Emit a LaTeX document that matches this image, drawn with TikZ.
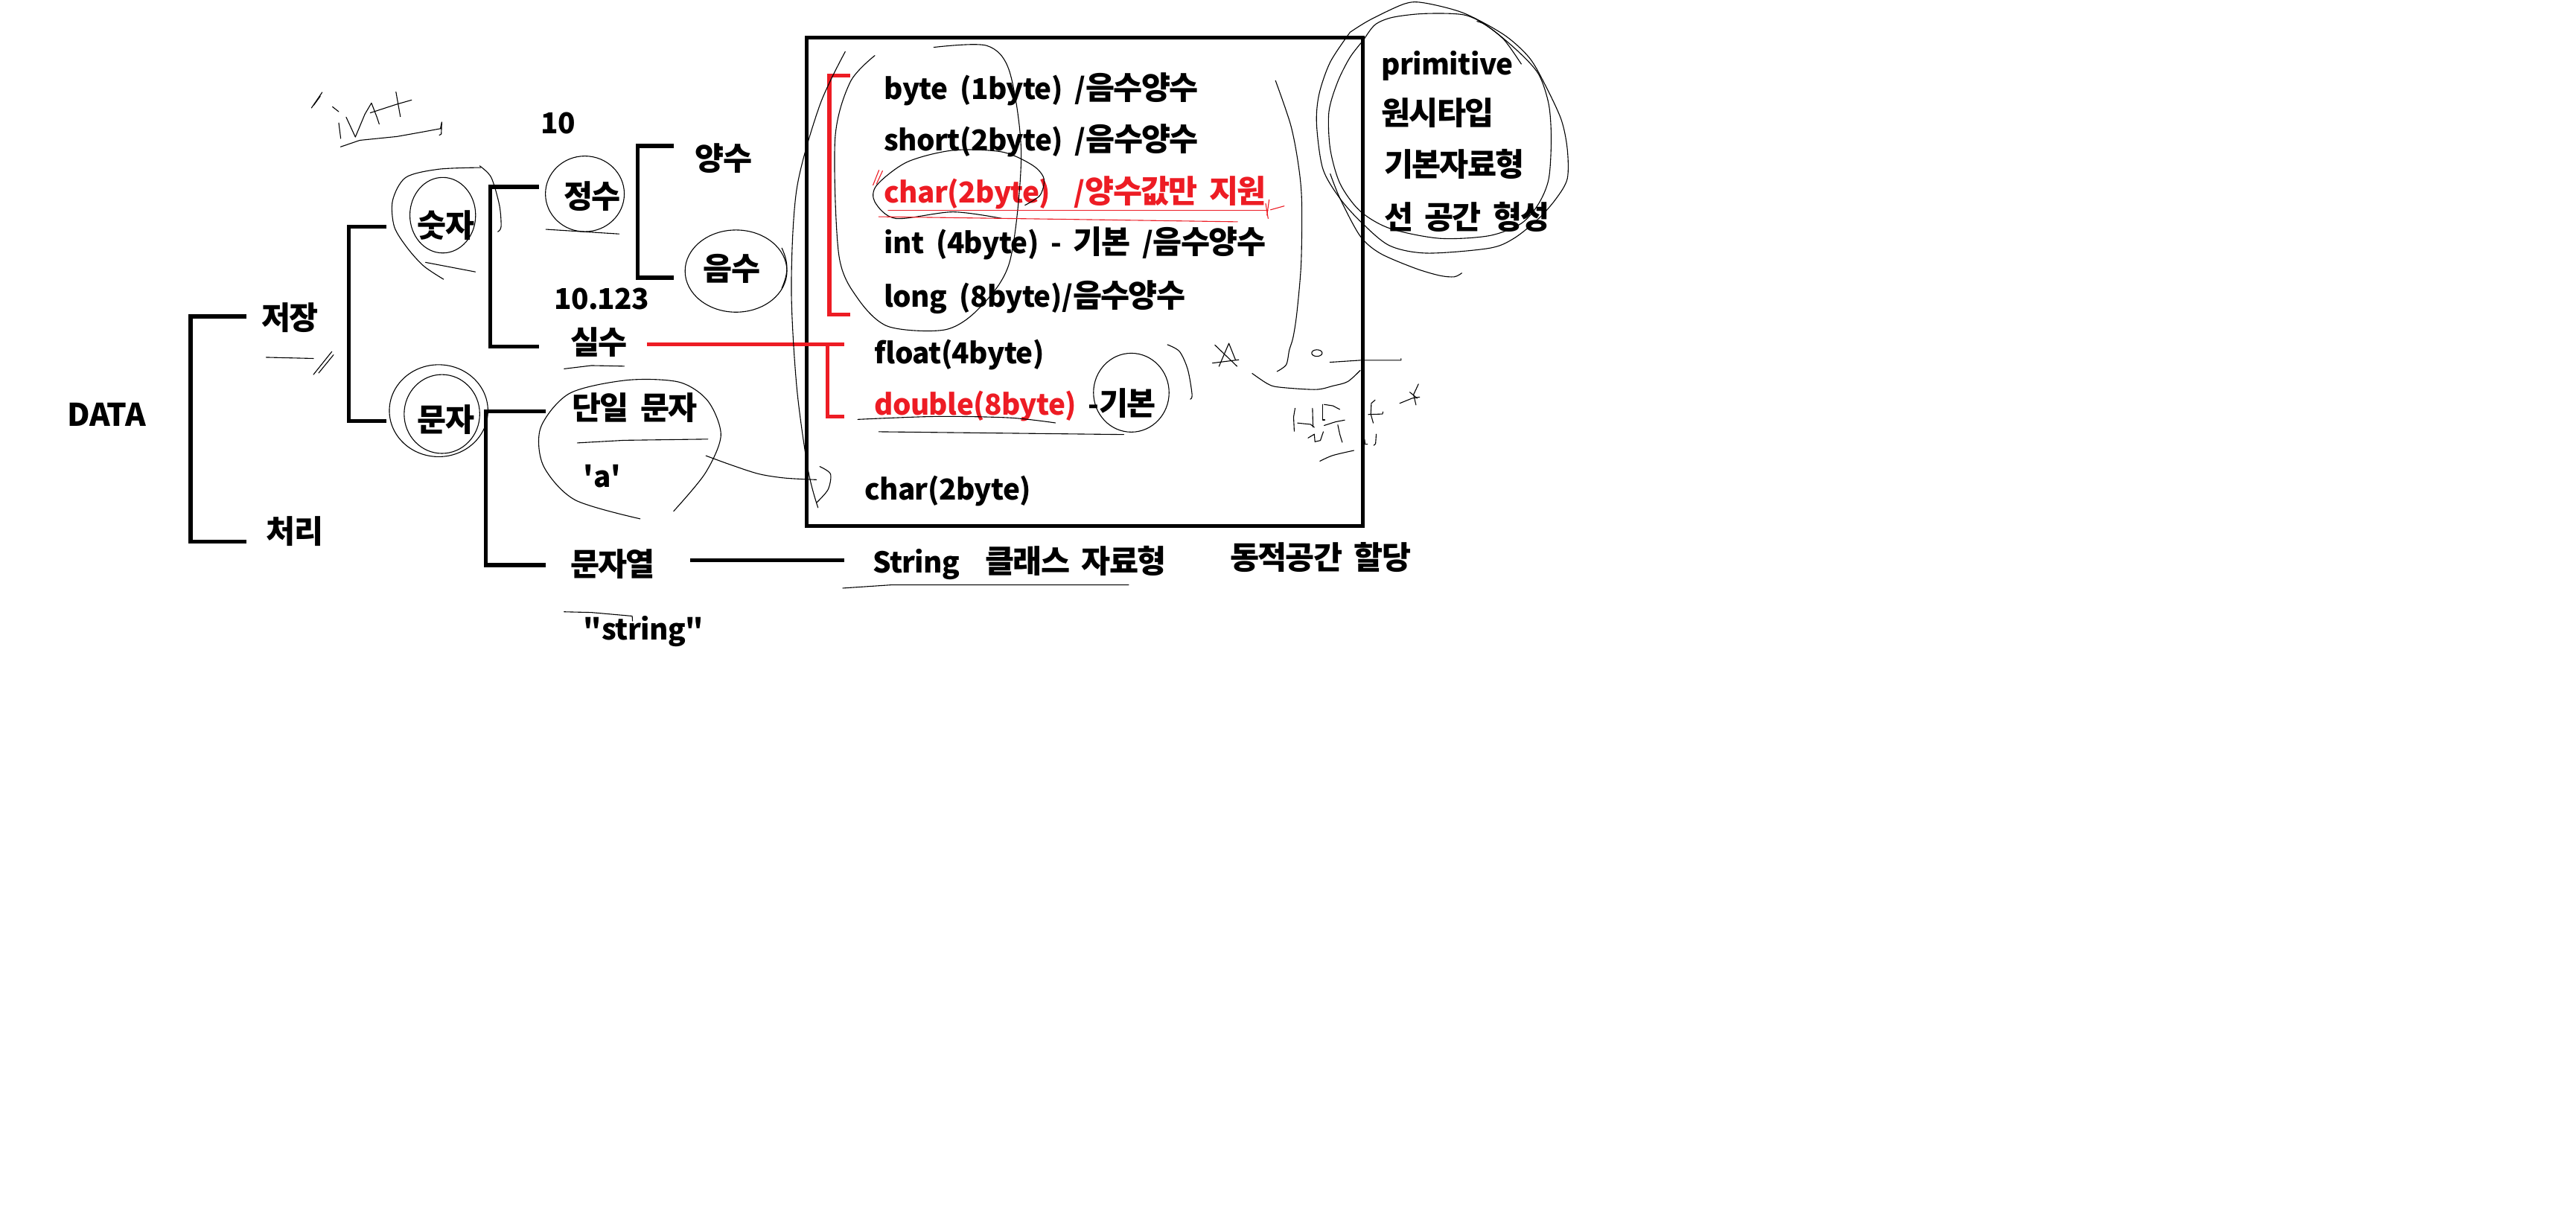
\documentclass[tikz,border=0pt]{standalone}
\usepackage{fontspec}
\setmainfont{Noto Sans CJK KR}[WordSpace=1.9, LetterSpace=-1.5]
\newfontfamily\krf{Noto Sans CJK KR}[Scale=1.1, LetterSpace=-4, WordSpace=1.9]
\newcommand\kor[1]{{\krf #1}}
\definecolor{pred}{RGB}{237,28,36}
\tikzset{
  txt/.style={anchor=west, inner sep=0pt, font=\fontsize{17.5}{20}\selectfont\bfseries, text height=15pt, text depth=2pt},
  br/.style={line width=2.4pt},
  redbr/.style={line width=2.4pt, draw=pred},
  scr/.style={line width=0.5pt, line cap=round, line join=round},
}
\begin{document}
\begin{tikzpicture}[x=1pt,y=-1pt]
\fill[white] (0,0) rectangle (1568,743);
\useasboundingbox (0,0) rectangle (1568,743);

% ---------- left tree texts
\node[txt, font=\fontsize{19}{21}\selectfont\bfseries] (data) at (41,253) {DATA};
\node[txt] (jeojang) at (159,194) {\kor{저장}};
\node[txt] (cheori) at (162,324) {\kor{처리}};
\node[txt] (sutja) at (254,138) {\kor{숫자}};
\node[txt] (munja) at (254,256) {\kor{문자}};
\node[txt] (ten) at (329,75) {10};
\node[txt] (jeongsu) at (343,120) {\kor{정수}};
\node[txt] (yangsu) at (423,97) {\kor{양수}};
\node[txt] (eumsu) at (428,164) {\kor{음수}};
\node[txt] (tenpt) at (337,182) {10.123};
\node[txt] (silsu) at (347,209) {\kor{실수}};
\node[txt] (danil) at (348,249) {\kor{단일 문자}};
\node[txt] (achar) at (355,290) {\textquotesingle a\textquotesingle};
\node[txt] (munjayeol) at (347,344) {\kor{문자열}};
\node[txt] (strq) at (355,383) {\textquotedbl string\textquotedbl};

% ---------- box contents
\draw[line width=2.3pt] (491,23) rectangle (829.6,320);
\node[txt] (t1) at (538,54) {byte (1byte) /\kor{음수양수}};
\node[txt] (t2) at (538,85.4) {short(2byte) /\kor{음수양수}};
\node[txt, text=pred] (t3) at (538,116.8) {char(2byte)~~/\kor{양수값만 지원}};
\node[txt] (t4) at (538,148) {int (4byte) - \kor{기본} /\kor{음수양수}};
\node[txt] (t5) at (538,180.5) {long (8byte)/\kor{음수양수}};
\node[txt] (t6) at (532,215) {float(4byte)};
\node[txt] (t7) at (532,246) {\textcolor{pred}{double(8byte)} -\kor{기본}};
\node[txt] (t8) at (526,298) {char(2byte)};

% ---------- right texts
\node[txt] (prim) at (840.6,39) {primitive};
\node[txt] (wonsi) at (840.6,69.5) {\kor{원시타입}};
\node[txt] (gibon) at (842.3,100.6) {\kor{기본자료형}};
\node[txt] (seon) at (842.3,133) {\kor{선 공간 형성}};

% ---------- bottom row
\node[txt] (str) at (531,342) {String};
\node[txt] (klass) at (599.6,342) {\kor{클래스 자료형}};
\node[txt] (dong) at (748.5,340) {\kor{동적공간 할당}};

% ---------- brackets
\draw[br] ([shift={(-9,-1.4)}]jeojang.west) -| ([shift={(-46,5.7)}]cheori.west) -- ([shift={(-12,5.7)}]cheori.west);
\draw[br] ([shift={(-18.7,0)}]sutja.west) -| ([shift={(-41.6,0.4)}]munja.west) -- ([shift={(-18.7,0.4)}]munja.west);
\draw[br] ([shift={(-14.8,-6.3)}]jeongsu.west) -| ([shift={(-48.7,1.8)}]silsu.west) -- ([shift={(-18.8,1.8)}]silsu.west);
\draw[br] ([shift={(-13,-8.2)}]yangsu.west) -| ([shift={(-40,5)}]eumsu.west) -- ([shift={(-18,5)}]eumsu.west);
\draw[br] ([shift={(-15.7,1.4)}]danil.west) -| ([shift={(-51.3,0)}]munjayeol.west) -- ([shift={(-14.7,0)}]munjayeol.west);
\draw[br] ([shift={(73,-3)}]munjayeol.west) -- ([shift={(-17,-1)}]str.west);

\draw[redbr] ([shift={(-20.5,-8)}]t1.west) -| ([shift={(-33.2,11.1)}]t5.west) -- ([shift={(-20.5,11.1)}]t5.west);
\draw[redbr] ([shift={(46.7,0.5)}]silsu.west) -- ([shift={(-18,-5.5)}]t6.west);
\draw[redbr] ([shift={(-28.4,-5.5)}]t6.west) |- ([shift={(-18,7.7)}]t7.west);

% ---------- hand scribbles (left)
\draw[scr] (189.6,65.7) -- (196.1,56.2);
\draw[scr] (191,64) -- (195,58.5);
\draw[scr] (202.4,65) -- (206.2,68);
\draw[scr] (206.2,74.8) -- (207.4,84.3);
\draw[scr] (210.7,71.3) -- (216.3,83.4) -- (222.1,69.5) -- (226.1,62.7) -- (229.3,71) -- (230.8,75.5);
\draw[scr] (225.4,68.7) -- (241.7,63.4) -- (250.5,60.9);
\draw[scr] (241,55.9) -- (243.7,71);
\draw[scr] (207.3,89.4) -- (219,85.4) -- (241.7,83.1) -- (256.8,80.4) -- (268.1,78.3) -- (268.9,74.3) -- (268.6,81.6) -- (267.4,82.3);

\draw[scr] plot[smooth] coordinates {(292.6,102) (267,103) (247,108) (239,122) (240,138) (248,151) (258,162) (270,170)};
\draw[scr] plot[smooth] coordinates {(292,101) (299,108) (304,125) (305,138) (303,141)};
\draw[scr] (269.5,131) ellipse [x radius=20, y radius=23];
\draw[scr] (259,159.7) -- (289.4,165.5);
\draw[scr] (162,217.5) -- (190.8,218.2);
\draw[scr] (190.8,228) -- (202,214);
\draw[scr] (194,227) -- (203,216);

\draw[scr] (356,118) ellipse [x radius=24, y radius=23];
\draw[scr] (332.3,139.6) -- (376.8,142.4);
\draw[scr] (448,165) ellipse [x radius=31, y radius=25];
\draw[scr] (343.4,224.5) -- (360,222.5) -- (380,222.9);

\draw[scr] (267,250) ellipse [x radius=30, y radius=28];
\draw[scr] (269,252) ellipse [x radius=23, y radius=24];

\draw[scr] plot[smooth] coordinates {(410,311.2) (429.3,288) (438.8,265) (430.9,244.1) (413.4,232.6) (381.6,231.4) (346.6,239.5) (329.1,260.3) (330.7,283.4) (349.8,304.2) (389.6,315.8)};
\draw[scr] (351.4,269.6) -- (380,268) -- (430.9,267.3);
\draw[scr] plot[smooth] coordinates {(429.7,277.4) (445,283) (462,288.5) (478,291) (497,292)};
\draw[scr] plot[smooth] coordinates {(499,284) (505.5,288.5) (504,298) (497,306)};
\draw[scr] (343.4,372.4) -- (360,372.8) -- (384.8,375) -- (385,378);
\draw[scr] (513,358) -- (543,356) -- (687,356);

% ---------- scribbles inside box
\draw[scr] plot[smooth] coordinates {(514.5,31.4) (499,64) (485,114.8) (481.7,175.4) (485,236) (492,286.7) (497.9,309)};
\draw[scr] plot[smooth] coordinates {(568.4,28.8) (600.7,27.8) (614.6,43.9) (621.6,94.5) (614.6,159.3) (596,187.6) (575.3,200.7) (540.6,198.7) (522,181.5) (510.6,155.2) (508.3,84.4) (517.5,50) (532.5,33.8)};
\draw[scr] plot[smooth] coordinates {(610,133) (580,129) (545.3,133) (532.5,122.9) (533.7,112.7) (552.2,98.6) (580,91.5) (610,92.5) (628.5,100.6) (635.4,108.7) (633.1,118.8) (623.9,124.9)};
\draw[scr] (475.9,151) .. controls (480,160) and (480,166) .. (475.9,175.4);
\draw[scr, pred] (540.6,127.9) -- (771.8,127.9);
\draw[scr, pred] (534.9,131.9) -- (650,133.5) -- (753.3,135);
\draw[scr, pred] (531.4,112.7) -- (535,103.6);
\draw[scr, pred] (533.5,112) -- (537.2,104);
\draw[scr, pred] (770.4,123.9) -- (771.9,133);
\draw[scr, pred] (772.5,121.6) -- (771.2,131);
\draw[scr, pred] (773.4,127.7) -- (781.7,125.4);
\draw[scr] plot[smooth] coordinates {(522.1,255.3) (570,253.5) (614.6,254.3) (642.4,257.4)};
\draw[scr] (534.9,262.8) -- (684,264.5);
\draw[scr] (688.6,239) ellipse [x radius=23, y radius=24];
\draw[scr] plot[smooth] coordinates {(710.6,209.8) (718,214) (723,225) (725.6,240.2) (724.5,243)};
\draw[scr] (739.5,210) -- (753,223);
\draw[scr] (742,223) -- (748,209) -- (752,219);
\draw[scr] (738,221) -- (754,219);
\draw[scr] plot[smooth] coordinates {(776.4,49.1) (785.5,75.6) (790,98.2) (792.3,120.9) (792,160) (789.4,190.3) (787.1,205.4) (784.8,213) (782.9,222) (777.3,226.1)};
\draw[scr] plot[smooth] coordinates {(762.2,227.3) (771.2,233.4) (778,235.6) (800.7,237.1) (811.3,234.9) (820.3,232.3) (827.9,225.5)};
\draw[scr] (801.6,214.9) ellipse [x radius=3.2, y radius=2];
\draw[scr] (809.5,220.5) -- (827.9,219.3) -- (852.8,219.3) -- (852.8,218.3);

% ---------- scribbles right of box
\draw[scr] (852,245.5) -- (859.6,242.4) -- (864.1,241.7);
\draw[scr] (863.4,233.8) -- (860.4,240.2) -- (861.9,246.5);
\draw[scr] (858.1,238.7) -- (862.6,242.4);
\draw[scr] (788.3,248.5) -- (787.4,253.8) -- (787.8,262.5);
\draw[scr] (789.8,257.5) -- (797.7,258.3) -- (800,260.1);
\draw[scr] (798.9,248.5) -- (799.2,259.8);
\draw[scr] (796.2,266.6) -- (800,264.3) -- (800.4,268.9) -- (803.7,268.1) -- (805.5,262.8);
\draw[scr] (805.2,246.2) -- (805.2,255.6) -- (806.4,255.6);
\draw[scr] (806,246.2) -- (811.3,247) -- (815.5,249.2);
\draw[scr] (806,259) -- (812.8,256.8) -- (818.5,255.7);
\draw[scr] (814.3,258.6) -- (815.5,264.3) -- (817,269.2);
\draw[scr] (837,243.5) -- (834.7,245.5) -- (834.4,252.2) -- (835.9,257.5);
\draw[scr] (832.9,252.3) -- (841.5,252) -- (841.8,250.7);
\draw[scr] (830.6,267.4) -- (830.9,270.4) -- (832.4,270.4);
\draw[scr] (837.7,264.3) -- (837.3,270.1) -- (836.2,271.1);
\draw[scr] plot[smooth] coordinates {(803.4,280.7) (811.3,277.2) (824.1,274.2)};

\draw[scr] plot[smooth] coordinates {(830.1,24.2) (836.9,15.1) (847.5,10.6) (867.1,8.3) (891.3,9.1) (906.4,16.6) (924.5,31.7) (936.6,45.3) (942.7,63.5) (944.2,84.6) (942.7,108.8) (936.6,123.9) (926,136) (906.4,143.5) (876.2,145.1) (845.9,139) (827.8,128.4) (815.7,111.8) (809.7,90.7) (808.9,68) (814.2,49.9) (821.8,34.8) (830.1,24.2)};
\draw[scr] plot[smooth] coordinates {(821.8,19.6) (833.9,12.1) (855,2.3) (867.1,1.8) (891,8) (915.5,21.2) (930.6,34.8) (939.6,49.9) (950.2,72.5) (954,90.7) (954,108.8) (947.2,120.9) (936.6,133) (921.5,145.1) (906.4,151.1) (868.6,154.1) (846,149.6) (829.3,136) (815.7,120.9) (805.2,102.7) (801.4,75.6) (802.9,57.4) (809.7,37.8) (821.8,19.6)};
\draw[scr] plot[smooth] coordinates {(809.7,105.8) (815.7,120.9) (827.8,143.5) (839.9,154.1) (861.1,163.2) (876.2,167.7) (885.2,168.5) (889.8,166.2)};
\draw[scr] plot[smooth] coordinates {(899,13) (904.1,15.1) (915.5,24.2) (926,39)};
\end{tikzpicture}
\end{document}
